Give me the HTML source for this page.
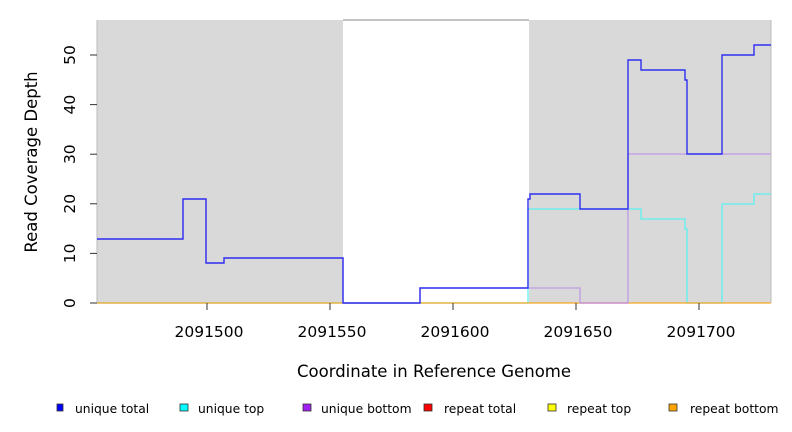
<!DOCTYPE html>
<html><head><style>body{margin:0;background:#fff}svg{display:block;font-family:"DejaVu Sans","Liberation Sans",sans-serif}</style></head><body>
<svg width="792" height="432" xmlns="http://www.w3.org/2000/svg">
<rect x="97" y="20" width="246" height="283" fill="#d9d9d9"/>
<rect x="529" y="20" width="242" height="283" fill="#d9d9d9"/>
<line x1="343" y1="20" x2="529" y2="20" stroke="#888" stroke-width="1"/>
<line x1="97" y1="20" x2="97" y2="303" stroke="#bbb"/>
<line x1="771" y1="20" x2="771" y2="303" stroke="#bbb"/>
<polyline fill="none" stroke="#5ef0f0" stroke-width="1.3" points="97,303 528,303 528,209 641,209 641,219 685,219 685,229 687,229 687,303 722,303 722,204 754,204 754,194 771,194"/>
<polyline fill="none" stroke="#f5a623" stroke-width="1.3" points="97,303 771,303"/>
<polyline fill="none" stroke="#e06080" stroke-width="1.3" points="580,303 628,303"/>
<polyline fill="none" stroke="#c09ae8" stroke-width="1.3" points="97,239 183,239 183,199 206,199 206,263 224,263 224,258 343,258 343,303 420,303 420,288 580,288 580,303 628,303 628,154 771,154"/>
<polyline fill="none" stroke="#3030f0" stroke-width="1.4" points="97,239 183,239 183,199 206,199 206,263 224,263 224,258 343,258 343,303 420,303 420,288 528,288 528,199 530,199 530,194 580,194 580,209 628,209 628,60 641,60 641,70 685,70 685,80 687,80 687,154 722,154 722,55 754,55 754,45 771,45"/>
<g stroke="#333"><line x1="90" y1="303" x2="97" y2="303"/><line x1="90" y1="253.4" x2="97" y2="253.4"/><line x1="90" y1="203.8" x2="97" y2="203.8"/><line x1="90" y1="154.2" x2="97" y2="154.2"/><line x1="90" y1="104.6" x2="97" y2="104.6"/><line x1="90" y1="55" x2="97" y2="55"/>
<line x1="207" y1="303" x2="207" y2="310"/><line x1="330" y1="303" x2="330" y2="310"/><line x1="453" y1="303" x2="453" y2="310"/><line x1="576" y1="303" x2="576" y2="310"/><line x1="699" y1="303" x2="699" y2="310"/></g>
<g font-size="15.5" text-anchor="middle" fill="#000">
<text transform="translate(75,303) rotate(-90)">0</text><text transform="translate(75,253.4) rotate(-90)">10</text><text transform="translate(75,203.8) rotate(-90)">20</text><text transform="translate(75,154.2) rotate(-90)">30</text><text transform="translate(75,104.6) rotate(-90)">40</text><text transform="translate(75,55) rotate(-90)">50</text>
<text x="209" y="337">2091500</text><text x="332" y="337">2091550</text><text x="455" y="337">2091600</text><text x="578" y="337">2091650</text><text x="701" y="337">2091700</text></g>
<g font-size="16.5" text-anchor="middle" fill="#000">
<text x="434" y="377">Coordinate in Reference Genome</text>
<text transform="translate(37,162) rotate(-90)">Read Coverage Depth</text></g>
<g font-size="12" fill="#000" stroke="#333" stroke-width="0.8">
<rect x="57" y="404" width="6" height="7" fill="#0000ff"/><rect x="180" y="404" width="8" height="7" fill="#00ffff"/><rect x="303" y="404" width="8" height="7" fill="#a020f0"/><rect x="424" y="404" width="8" height="7" fill="#ff0000"/><rect x="548" y="404" width="8" height="7" fill="#ffff00"/><rect x="669" y="404" width="8" height="7" fill="#ffa500"/></g>
<g font-size="12.3" fill="#000">
<text x="75" y="413">unique total</text><text x="198" y="413">unique top</text><text x="321" y="413">unique bottom</text><text x="444" y="413">repeat total</text><text x="567" y="413">repeat top</text><text x="690" y="413">repeat bottom</text></g>
</svg></body></html>
